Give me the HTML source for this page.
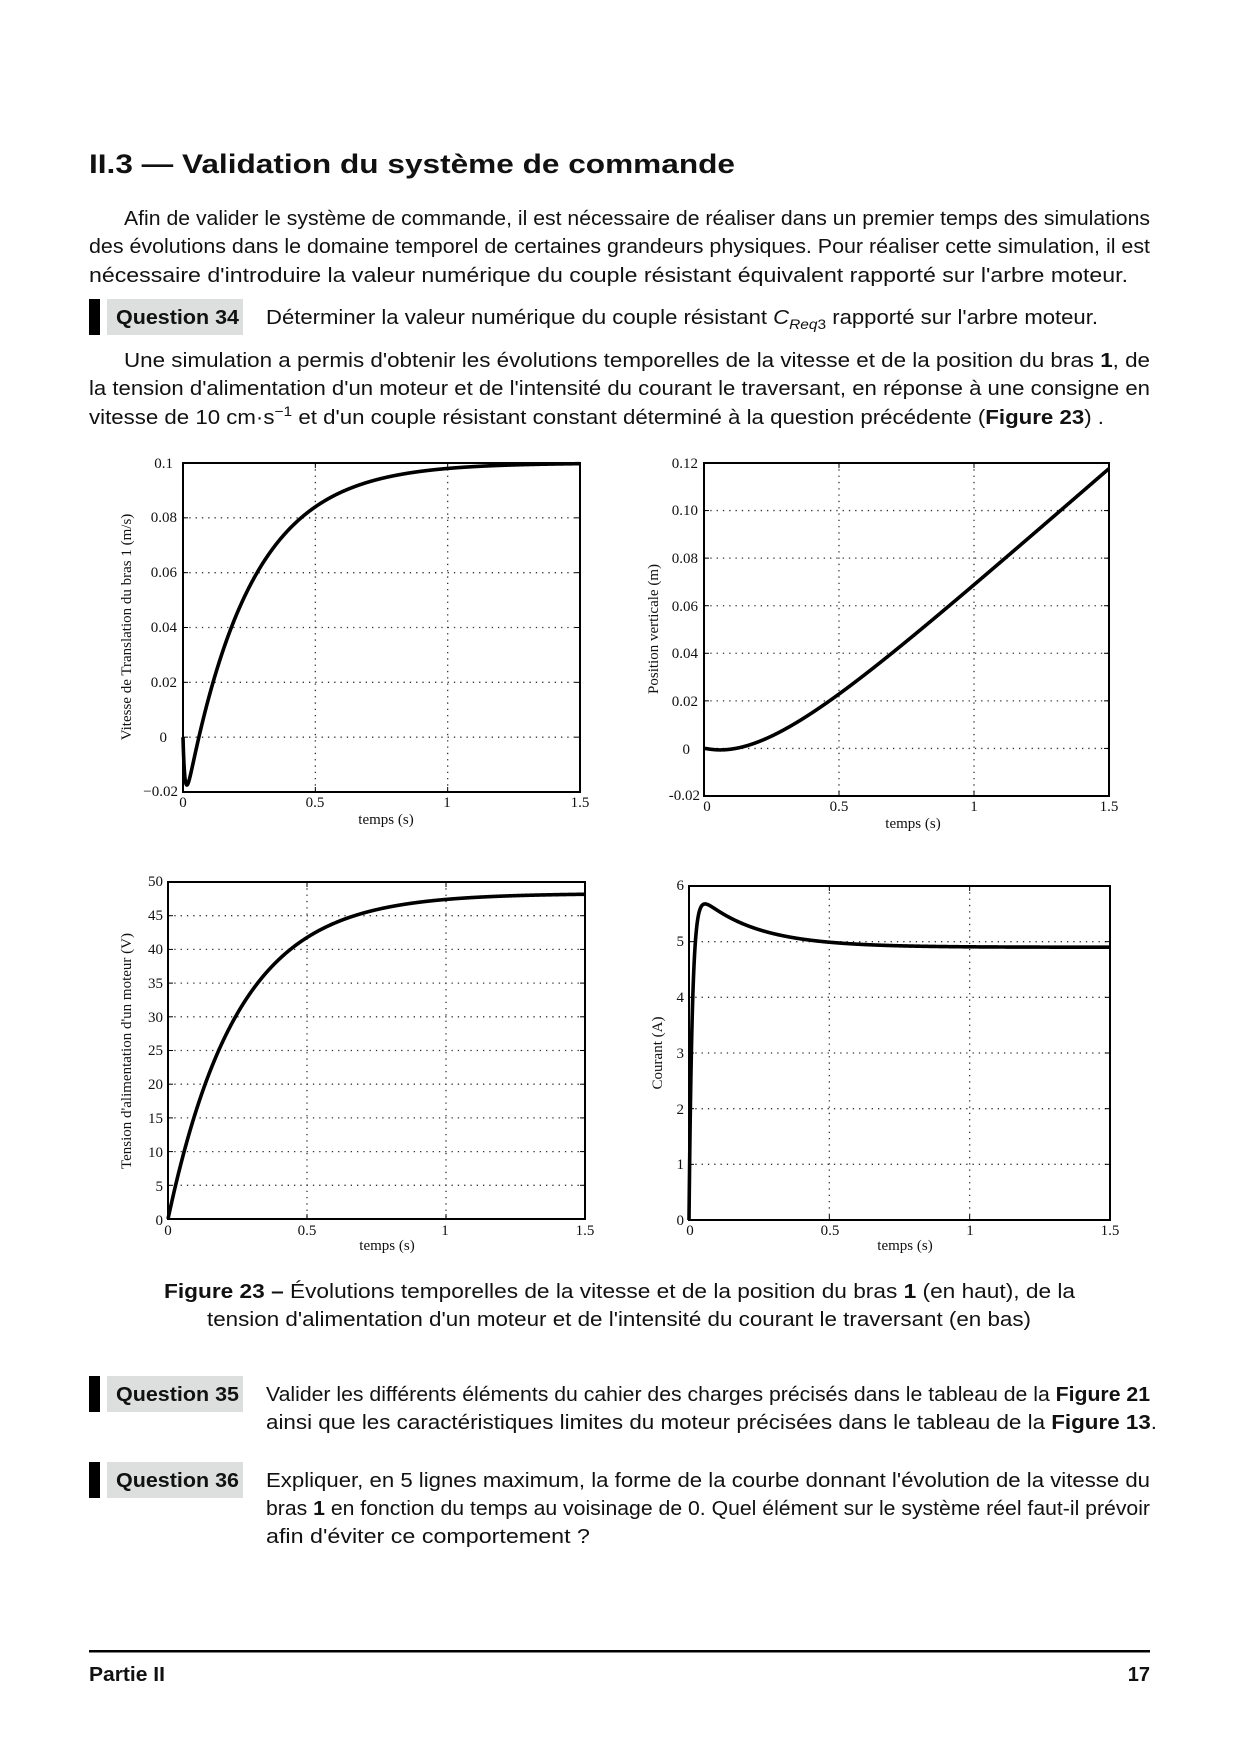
<!DOCTYPE html>
<html><head><meta charset="utf-8"><style>
html,body{margin:0;padding:0;background:#fff;}
svg{display:block;}
.b{font-family:"Liberation Sans",sans-serif;font-size:20px;fill:#111;}
.h{font-family:"Liberation Sans",sans-serif;font-size:27px;font-weight:bold;fill:#111;}
.s{font-family:"Liberation Serif",serif;font-size:15px;fill:#111;}
.ya{font-family:"Liberation Serif",serif;font-size:15px;fill:#111;}
.g{stroke:#333;stroke-width:1.3;stroke-dasharray:1.3 5;}
.ax{fill:none;stroke:#000;stroke-width:2;}
.c{fill:none;stroke:#000;stroke-width:3.6;stroke-linejoin:round;}
</style></head><body>
<svg id="s" width="1240" height="1754" viewBox="0 0 1240 1754" xmlns="http://www.w3.org/2000/svg">
<rect width="1240" height="1754" fill="#fff"/>
<text class="h" x="89" y="173" textLength="646" lengthAdjust="spacingAndGlyphs">II.3 —   Validation du système de commande</text>

<text class="b" x="124" y="225" textLength="1026" lengthAdjust="spacingAndGlyphs">Afin de valider le système de commande, il est nécessaire de réaliser dans un premier temps des simulations</text>
<text class="b" x="89" y="253" textLength="1061" lengthAdjust="spacingAndGlyphs">des évolutions dans le domaine temporel de certaines grandeurs physiques. Pour réaliser cette simulation, il est</text>
<text class="b" x="89" y="282" textLength="1039" lengthAdjust="spacingAndGlyphs">nécessaire d'introduire la valeur numérique du couple résistant équivalent rapporté sur l'arbre moteur.</text>

<rect x="89" y="299" width="11" height="36" fill="#000"/>
<rect x="107" y="299" width="136" height="36" fill="#dcdfde"/>
<text class="b" x="116" y="324" font-weight="bold" textLength="123" lengthAdjust="spacingAndGlyphs">Question 34</text>
<text class="b" x="266" y="324" textLength="832" lengthAdjust="spacingAndGlyphs">Déterminer la valeur numérique du couple résistant <tspan font-style="italic">C</tspan><tspan font-style="italic" font-size="14" dy="5">Req</tspan><tspan font-size="14" dy="0">3</tspan><tspan dy="-5"> rapporté sur l'arbre moteur.</tspan></text>

<text class="b" x="124" y="367" textLength="1026" lengthAdjust="spacingAndGlyphs">Une simulation a permis d'obtenir les évolutions temporelles de la vitesse et de la position du bras <tspan font-weight="bold">1</tspan>, de</text>
<text class="b" x="89" y="395" textLength="1061" lengthAdjust="spacingAndGlyphs">la tension d'alimentation d'un moteur et de l'intensité du courant le traversant, en réponse à une consigne en</text>
<text class="b" x="89" y="424" textLength="1015" lengthAdjust="spacingAndGlyphs">vitesse de 10 cm·s<tspan font-size="14" dy="-8">−1</tspan><tspan dy="8"> et d'un couple résistant constant déterminé à la question précédente (</tspan><tspan font-weight="bold">Figure 23</tspan>) .</text>

<g id="plots"></g>

<g class="s" text-anchor="end">
<text x="173" y="468">0.1</text><text x="177" y="522">0.08</text><text x="177" y="577">0.06</text><text x="177" y="632">0.04</text><text x="177" y="687">0.02</text><text x="167" y="742">0</text><text x="178" y="796">−0.02</text>
</g>
<g class="s" text-anchor="middle">
<text x="183" y="807">0</text><text x="315" y="807">0.5</text><text x="447" y="807">1</text><text x="580" y="807">1.5</text>
<text x="386" y="824">temps (s)</text>
</g>
<text class="ya" transform="translate(131,627) rotate(-90)" text-anchor="middle">Vitesse de Translation du bras 1 (m/s)</text>

<g class="s" text-anchor="end">
<text x="698" y="468">0.12</text><text x="698" y="515">0.10</text><text x="698" y="563">0.08</text><text x="698" y="611">0.06</text><text x="698" y="658">0.04</text><text x="698" y="706">0.02</text><text x="690" y="754">0</text><text x="700" y="800">-0.02</text>
</g>
<g class="s" text-anchor="middle">
<text x="707" y="811">0</text><text x="839" y="811">0.5</text><text x="974" y="811">1</text><text x="1109" y="811">1.5</text>
<text x="913" y="828">temps (s)</text>
</g>
<text class="ya" transform="translate(658,629) rotate(-90)" text-anchor="middle">Position verticale (m)</text>

<g class="s" text-anchor="end">
<text x="163" y="886">50</text><text x="163" y="920">45</text><text x="163" y="954">40</text><text x="163" y="988">35</text><text x="163" y="1022">30</text><text x="163" y="1055">25</text><text x="163" y="1089">20</text><text x="163" y="1123">15</text><text x="163" y="1157">10</text><text x="163" y="1191">5</text><text x="163" y="1225">0</text>
</g>
<g class="s" text-anchor="middle">
<text x="168" y="1235">0</text><text x="307" y="1235">0.5</text><text x="445" y="1235">1</text><text x="585" y="1235">1.5</text>
<text x="387" y="1250">temps (s)</text>
</g>
<text class="ya" transform="translate(131,1051) rotate(-90)" text-anchor="middle">Tension d'alimentation d'un moteur (V)</text>

<g class="s" text-anchor="end">
<text x="684" y="890">6</text><text x="684" y="946">5</text><text x="684" y="1002">4</text><text x="684" y="1058">3</text><text x="684" y="1114">2</text><text x="684" y="1169">1</text><text x="684" y="1225">0</text>
</g>
<g class="s" text-anchor="middle">
<text x="690" y="1235">0</text><text x="830" y="1235">0.5</text><text x="970" y="1235">1</text><text x="1110" y="1235">1.5</text>
<text x="905" y="1250">temps (s)</text>
</g>
<text class="ya" transform="translate(662,1053) rotate(-90)" text-anchor="middle">Courant (A)</text>

<text class="b" x="164" y="1298" textLength="911" lengthAdjust="spacingAndGlyphs"><tspan font-weight="bold">Figure 23 –</tspan> Évolutions temporelles de la vitesse et de la position du bras <tspan font-weight="bold">1</tspan> (en haut), de la</text>
<text class="b" x="207" y="1326" textLength="824" lengthAdjust="spacingAndGlyphs">tension d'alimentation d'un moteur et de l'intensité du courant le traversant (en bas)</text>

<rect x="89" y="1376" width="11" height="36" fill="#000"/>
<rect x="107" y="1376" width="136" height="36" fill="#dcdfde"/>
<text class="b" x="116" y="1401" font-weight="bold" textLength="123" lengthAdjust="spacingAndGlyphs">Question 35</text>
<text class="b" x="266" y="1401" textLength="884" lengthAdjust="spacingAndGlyphs">Valider les différents éléments du cahier des charges précisés dans le tableau de la <tspan font-weight="bold">Figure 21</tspan></text>
<text class="b" x="266" y="1429" textLength="891" lengthAdjust="spacingAndGlyphs">ainsi que les caractéristiques limites du moteur précisées dans le tableau de la <tspan font-weight="bold">Figure 13</tspan>.</text>

<rect x="89" y="1462" width="11" height="36" fill="#000"/>
<rect x="107" y="1462" width="136" height="36" fill="#dcdfde"/>
<text class="b" x="116" y="1487" font-weight="bold" textLength="123" lengthAdjust="spacingAndGlyphs">Question 36</text>
<text class="b" x="266" y="1487" textLength="884" lengthAdjust="spacingAndGlyphs">Expliquer, en 5 lignes maximum, la forme de la courbe donnant l'évolution de la vitesse du</text>
<text class="b" x="266" y="1515" textLength="884" lengthAdjust="spacingAndGlyphs">bras <tspan font-weight="bold">1</tspan> en fonction du temps au voisinage de 0. Quel élément sur le système réel faut-il prévoir</text>
<text class="b" x="266" y="1543" textLength="324" lengthAdjust="spacingAndGlyphs">afin d'éviter ce comportement ?</text>

<rect x="89" y="1650" width="1061" height="2.5" fill="#000"/>
<text class="b" x="89" y="1681" font-weight="bold" textLength="76" lengthAdjust="spacingAndGlyphs">Partie II</text>
<text class="b" x="1150" y="1681" font-weight="bold" text-anchor="end">17</text>
</svg>
<script>
(function(){
var NS="http://www.w3.org/2000/svg",g=document.getElementById("plots");
function el(n,a){var e=document.createElementNS(NS,n);for(var k in a)e.setAttribute(k,a[k]);g.appendChild(e);return e;}
function plot(L,R,T,B,ymin,ymax,ystep,f){
  var X=function(t){return L+(R-L)*t/1.5;},Y=function(v){return B-(B-T)*(v-ymin)/(ymax-ymin);};
  for(var t=0.5;t<1.5;t+=0.5)el("line",{x1:X(t),x2:X(t),y1:T,y2:B,"class":"g"});
  var n=Math.round((ymax-ymin)/ystep);
  for(var i=1;i<n;i++){var y=Y(ymin+i*ystep);el("line",{x1:L,x2:R,y1:y,y2:y,"class":"g"});
    el("line",{x1:L,x2:L+5,y1:y,y2:y,stroke:"#000","stroke-width":1});el("line",{x1:R-5,x2:R,y1:y,y2:y,stroke:"#000","stroke-width":1});}
  for(var t=0.5;t<1.5;t+=0.5){el("line",{x1:X(t),x2:X(t),y1:B,y2:B-5,stroke:"#000","stroke-width":1});el("line",{x1:X(t),x2:X(t),y1:T,y2:T+5,stroke:"#000","stroke-width":1});}
  el("rect",{x:L,y:T,width:R-L,height:B-T,"class":"ax"});
  var d="";for(var k=0;k<=1500;k++){var t=k*0.001;var v=f(t);d+=(k?"L":"M")+X(t).toFixed(2)+" "+Y(v).toFixed(2);}
  el("path",{d:d,"class":"c"});
}
function vel(t){return 0.1*(1-Math.exp(-(t-0.06)/0.24))*(1-Math.exp(-t/0.008));}
var pos=[],acc=0;for(var k=0;k<=1500;k++){pos.push(acc);acc+=vel(k*0.001+0.0005)*0.001*0.985;}
plot(183,580,463,792,-0.02,0.1,0.02,vel);
plot(704,1109,463,796,-0.02,0.12,0.02,function(t){return pos[Math.round(t*1000)];});
plot(168,585,882,1219,0,50,5,function(t){return 48.3*(1-Math.exp(-t/0.25));});
plot(689,1110,886,1220,0,6,1,function(t){return (4.9+1.1*Math.exp(-t/0.2))*(1-Math.exp(-t/0.012));});
})();
</script>
</body></html>
